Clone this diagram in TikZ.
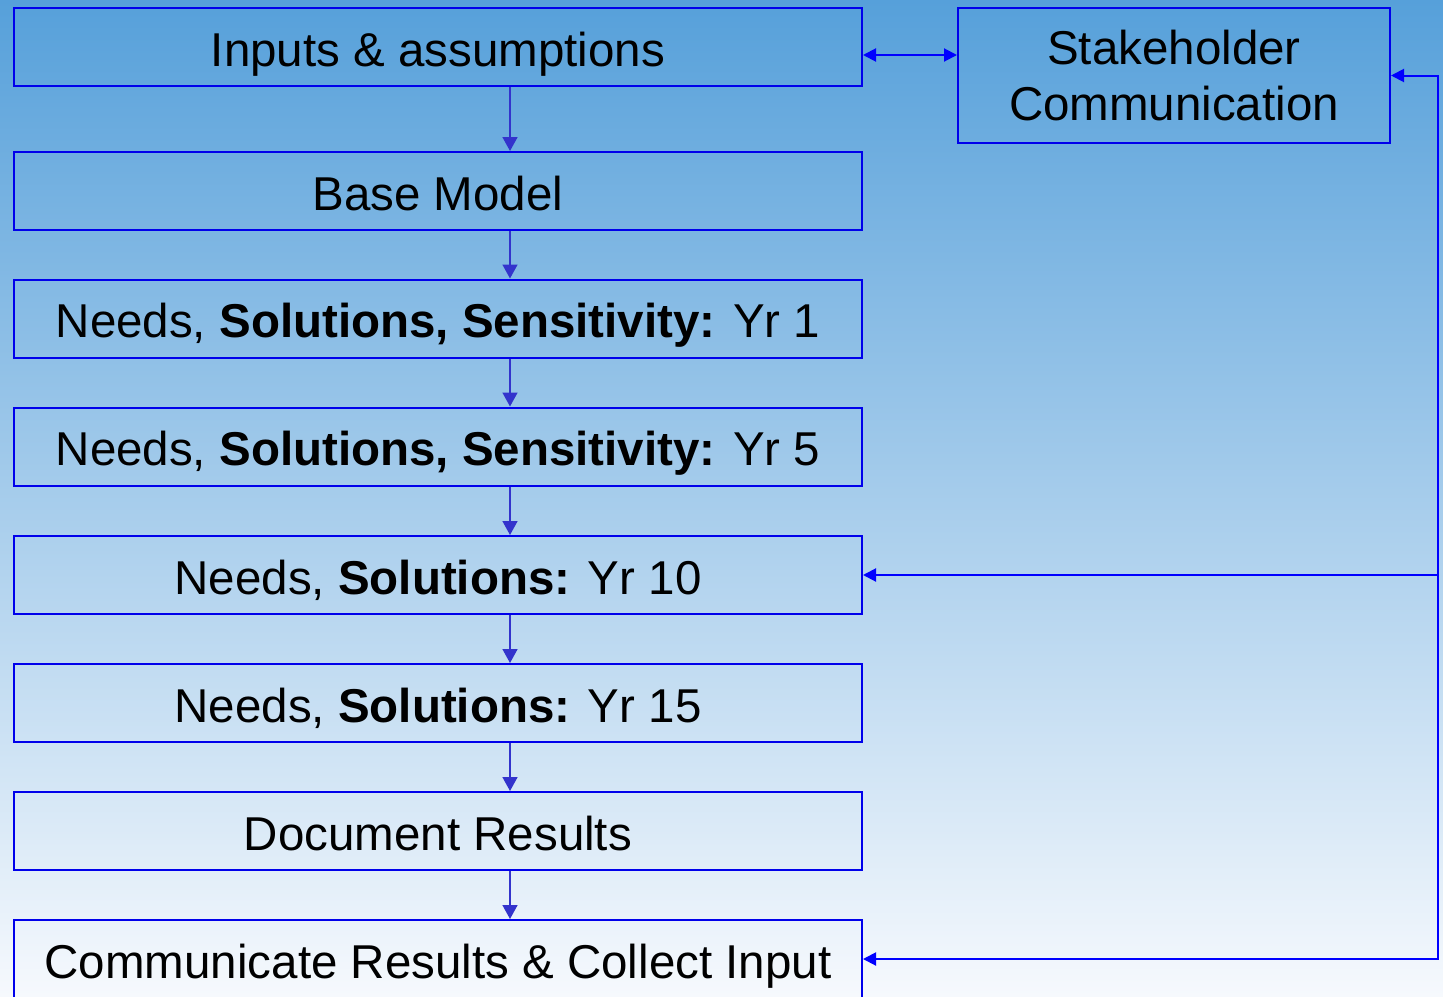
\documentclass[tikz,border=0pt]{standalone}
\usepackage{fontspec}
\setmainfont{Liberation Sans}
\usetikzlibrary{arrows.meta}
\definecolor{bgtop}{RGB}{86,160,218}
\definecolor{bgbot}{RGB}{246,249,253}
\definecolor{boxline}{RGB}{0,0,235}
\definecolor{flowline}{RGB}{51,51,204}
\definecolor{loopline}{RGB}{0,0,255}
\begin{document}
\begin{tikzpicture}[x=1pt,y=-1pt,
  stepbox/.style={draw=boxline,line width=2pt,minimum width=848pt,minimum height=78pt,inner sep=0pt,
    font=\fontsize{47.5}{56}\selectfont,text=black},
  onebox/.style={stepbox,text height=44pt,text depth=6pt},
  varrow/.style={draw=flowline,line width=1.6pt,-{Triangle[length=14pt,width=15pt]}},
  barrow/.style={draw=loopline,line width=2pt,arrows={-{Triangle[length=13pt,width=13pt]}}},
  bbarrow/.style={draw=loopline,line width=2pt,arrows={{Triangle[length=13pt,width=13pt]}-{Triangle[length=13pt,width=13pt]}}}
]
\useasboundingbox (0,0) rectangle (1443,996);
\shade[top color=bgtop,bottom color=bgbot] (0,0) rectangle (1443,996);
\node[onebox] (inp) at (438,47) {Inputs \& assumptions};
\node[onebox] (base) at (438,191) {Base Model};
\node[onebox] (yr1) at (438,318.5) {Needs, \textbf{Solutions, Sensitivity:} Yr 1};
\node[onebox] (yr5) at (438,446.5) {Needs, \textbf{Solutions, Sensitivity:} Yr 5};
\node[onebox] (yr10) at (438,575) {Needs, \textbf{Solutions:} Yr 10};
\node[onebox] (yr15) at (438,703) {Needs, \textbf{Solutions:} Yr 15};
\node[onebox] (doc) at (438,831) {Document Results};
\node[onebox] (comm) at (438,959) {Communicate Results \& Collect Input};
\node[stepbox,minimum width=432pt,minimum height=135pt,align=center] (stake) at (1174,75.5) {Stakeholder\\Communication};
\coordinate (ax) at (510,0);
\coordinate (rx) at (1438,0);
\coordinate (dy) at (0,55);
\draw[varrow] (inp.south -| ax) -- (base.north -| ax);
\draw[varrow] (base.south -| ax) -- (yr1.north -| ax);
\draw[varrow] (yr1.south -| ax) -- (yr5.north -| ax);
\draw[varrow] (yr5.south -| ax) -- (yr10.north -| ax);
\draw[varrow] (yr10.south -| ax) -- (yr15.north -| ax);
\draw[varrow] (yr15.south -| ax) -- (doc.north -| ax);
\draw[varrow] (doc.south -| ax) -- (comm.north -| ax);
\draw[bbarrow] (inp.east |- dy) -- (stake.west |- dy);
\draw[bbarrow] (comm.east) -- (comm.east -| rx) -- (stake.east -| rx) -- (stake.east);
\draw[barrow] (yr10.east -| rx) -- (yr10.east);
\end{tikzpicture}
\end{document}
